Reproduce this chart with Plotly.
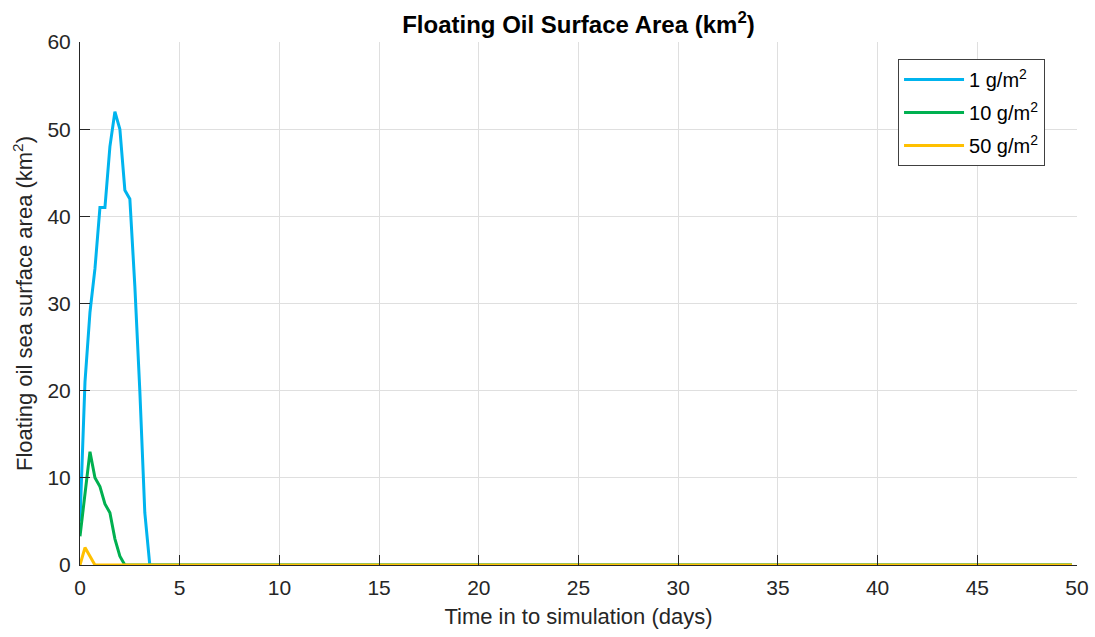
import plotly.graph_objects as go

# Simulation time (days), sampled every 6 hours while the slick is present
time_1 = [0, 0.25, 0.5, 0.75, 1.0, 1.25, 1.5, 1.75, 2.0, 2.25, 2.5, 2.75, 3.0, 3.25, 3.5, 49.75]
area_1 = [5, 21, 29, 34, 41, 41, 48, 52, 50, 43, 42, 32, 20, 6, 0, 0]

time_10 = [0, 0.25, 0.5, 0.75, 1.0, 1.25, 1.5, 1.75, 2.0, 2.25, 49.75]
area_10 = [3.3, 8, 13, 10, 9, 7, 6, 3, 1, 0, 0]

time_50 = [0, 0.25, 0.5, 0.75, 49.75]
area_50 = [0, 2, 1, 0, 0]

x_ticks = [0, 5, 10, 15, 20, 25, 30, 35, 40, 45, 50]
y_ticks = [0, 10, 20, 30, 40, 50, 60]

series = [
    ("1 g/m<sup>2</sup>", time_1, area_1, "#00B4EE"),
    ("10 g/m<sup>2</sup>", time_10, area_10, "#00B050"),
    ("50 g/m<sup>2</sup>", time_50, area_50, "#FFC000"),
]

FONT = "Liberation Sans, Arial, sans-serif"

fig = go.Figure()
for name, t, a, color in series:
    fig.add_trace(go.Scatter(
        x=t, y=a, name=name, mode="lines", legendgroup=name,
        line=dict(color=color, width=3),
    ))

axis_font = dict(family=FONT, size=21, color="#262626")

fig.update_layout(
    width=1095, height=637,
    margin=dict(l=80, r=18, t=42, b=72, autoexpand=False),
    paper_bgcolor="white", plot_bgcolor="white",
    font=axis_font,
    title=dict(
        text="<b>Floating Oil Surface Area (km<sup>2</sup>)</b>",
        x=0.5283, xanchor="center", y=0.962, yanchor="middle",
        font=dict(family=FONT, size=24, color="black"),
    ),
    legend=dict(
        x=0.8205, xanchor="left", y=0.9675, yanchor="top",
        bgcolor="white", bordercolor="#404040", borderwidth=1,
        font=dict(family=FONT, size=20, color="black"),
        itemwidth=60, tracegroupgap=4,
    ),
    showlegend=True,
)

fig.update_xaxes(
    range=[0, 50], tickvals=x_ticks, ticks="inside", ticklen=10, tickwidth=1,
    tickcolor="#262626", showline=True, linecolor="#262626", linewidth=1,
    showgrid=True, gridcolor="#DFDFDF", gridwidth=1, zeroline=False,
    automargin=False,
    title=dict(text="Time in to simulation (days)", standoff=10,
               font=dict(family=FONT, size=22, color="#262626")),
    tickfont=axis_font, ticklabelstandoff=4,
)
fig.update_yaxes(
    range=[0, 60], tickvals=y_ticks, ticks="inside", ticklen=10, tickwidth=1,
    tickcolor="#262626", showline=True, linecolor="#262626", linewidth=1,
    showgrid=True, gridcolor="#DFDFDF", gridwidth=1, zeroline=False,
    automargin=False,
    title=dict(text="Floating oil sea surface area (km<sup>2</sup>)", standoff=8,
               font=dict(family=FONT, size=22, color="#262626")),
    tickfont=axis_font, ticklabelstandoff=4,
)

fig.write_html("out.html")
